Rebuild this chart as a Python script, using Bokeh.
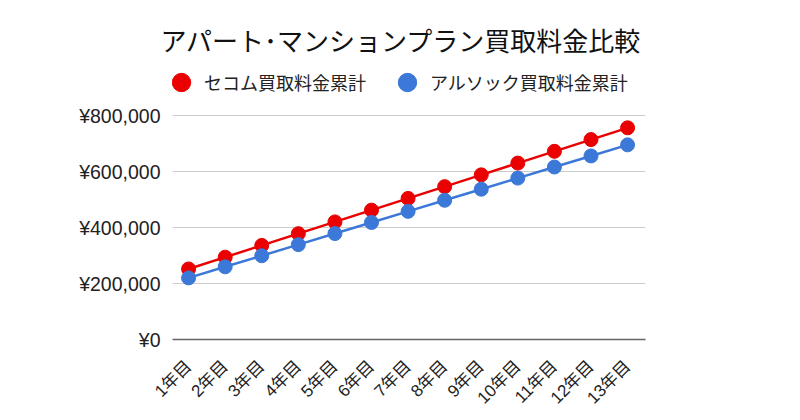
import math
from bokeh.plotting import figure
from bokeh.models import Range1d, FixedTicker, Legend, LegendItem
from bokeh.embed import file_html
from bokeh.resources import INLINE

years = ["1年目", "2年目", "3年目", "4年目", "5年目", "6年目", "7年目",
         "8年目", "9年目", "10年目", "11年目", "12年目", "13年目"]
secom = [252000, 294000, 336000, 378000, 420000, 462000, 504000,
         546000, 588000, 630000, 672000, 714000, 756000]
alsok = [220000, 259600, 299200, 338800, 378400, 418000, 457600,
         497200, 536800, 576400, 616000, 655600, 695200]
y_ticks = [0, 200000, 400000, 600000, 800000]
y_tick_labels = ["¥0", "¥200,000", "¥400,000", "¥600,000", "¥800,000"]
series_names = ["セコム買取料金累計", "アルソック買取料金累計"]
title_text = "アパート･マンションプラン買取料金比較"

FONT = "Liberation Sans, Noto Sans CJK JP"
CJK = "Noto Sans CJK JP"
RED = "#ea0000"
BLUE = "#3c78d8"

xs = list(range(1, len(years) + 1))

p = figure(width=800, height=420, output_backend="svg", toolbar_location=None,
           x_range=Range1d(0.56, 13.49), y_range=Range1d(0, 1000000),
           min_border_left=172, min_border_right=155, min_border_bottom=81,
           min_border_top=59)

p.title.text = title_text
p.title.text_font = CJK
p.title.text_font_size = "26px"
p.title.text_font_style = "normal"
p.title.align = "left"
p.title.offset = -12
p.title.text_color = "#111111"
p.title.standoff = 4

p.line(xs, secom, line_color=RED, line_width=2.5)
p.line(xs, alsok, line_color=BLUE, line_width=2.5)
r1 = p.scatter(xs, secom, size=14, fill_color=RED, line_color=RED)
r2 = p.scatter(xs, alsok, size=14, fill_color=BLUE, line_color=BLUE)

legend = Legend(items=[LegendItem(label=series_names[0], renderers=[r1]),
                       LegendItem(label=series_names[1], renderers=[r2])],
                orientation="horizontal", location=(-14, 234),
                label_text_font=CJK, label_text_font_size="18px",
                label_text_color="#222222", glyph_width=46, glyph_height=46,
                label_standoff=0, spacing=18, border_line_color=None,
                background_fill_alpha=0, margin=0, padding=2)
p.add_layout(legend, "center")

p.xaxis.ticker = FixedTicker(ticks=xs)
p.xaxis.major_label_overrides = {x: lab for x, lab in zip(xs, years)}
p.xaxis.major_label_orientation = math.pi / 4
p.xaxis.major_label_text_font = FONT
p.xaxis.major_label_text_font_size = "17px"
p.xaxis.major_label_text_color = "#222222"
p.xaxis.major_label_standoff = 18
p.xaxis.major_tick_line_color = None
p.xaxis.minor_tick_line_color = None
p.xaxis.axis_line_color = "#666666"
p.xaxis.axis_line_width = 1.5

p.yaxis.ticker = FixedTicker(ticks=y_ticks)
p.yaxis.major_label_overrides = {t: lab for t, lab in zip(y_ticks, y_tick_labels)}
p.yaxis.major_label_text_font = FONT
p.yaxis.major_label_text_font_size = "19.5px"
p.yaxis.major_label_text_color = "#222222"
p.yaxis.major_tick_line_color = None
p.yaxis.minor_tick_line_color = None
p.yaxis.axis_line_color = None
p.yaxis.major_label_standoff = 6

p.xgrid.grid_line_color = None
p.ygrid.grid_line_color = "#cccccc"
p.ygrid.grid_line_width = 1
p.outline_line_color = None

open("out.html", "w").write(file_html(p, INLINE))
